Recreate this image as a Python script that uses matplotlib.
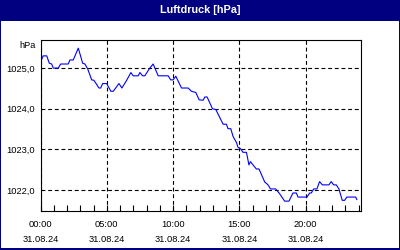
import matplotlib.pyplot as plt
from matplotlib.patches import Rectangle
from matplotlib.ticker import MultipleLocator, FixedLocator

# hours since 00:00 on 31.08.24 and pressure in hPa
hours = [0.00, 0.20, 0.47, 0.66, 0.84, 0.96, 1.34, 1.52, 2.09, 2.22, 2.47, 2.85,
         3.18, 3.35, 3.56, 3.86, 4.03, 4.41, 4.54, 4.69, 4.99, 5.31, 5.49, 5.92,
         6.14, 6.50, 6.82, 6.99, 7.37, 7.50, 7.70, 7.87, 8.25, 8.50, 8.88, 9.63,
         9.83, 10.01, 10.21, 10.64, 11.14, 11.39, 11.72, 11.97, 12.27, 12.40, 12.57,
         12.98, 13.23, 13.78, 14.03, 14.15, 14.36, 14.53, 14.79, 14.91, 15.09, 15.28,
         15.54, 15.73, 15.84, 16.04, 16.29, 16.49, 16.92, 17.17, 17.35, 17.75, 18.05,
         18.42, 18.75, 19.05, 19.31, 19.43, 20.11, 20.31, 20.44, 20.61, 20.86, 21.06,
         21.27, 21.76, 21.94, 22.12, 22.32, 22.52, 22.77, 22.95, 23.12, 23.78, 23.87]
pressure = [1025.15, 1025.30, 1025.30, 1025.12, 1025.10, 1025.00, 1025.00, 1025.10,
            1025.10, 1025.20, 1025.20, 1025.49, 1025.12, 1025.10, 1024.98, 1024.71,
            1024.70, 1024.51, 1024.51, 1024.62, 1024.62, 1024.43, 1024.43, 1024.62,
            1024.51, 1024.70, 1024.89, 1024.81, 1024.81, 1024.89, 1024.81, 1024.81,
            1025.00, 1025.10, 1024.81, 1024.81, 1024.71, 1024.71, 1024.80, 1024.51,
            1024.51, 1024.43, 1024.40, 1024.22, 1024.21, 1024.29, 1024.29, 1024.00,
            1023.98, 1023.62, 1023.62, 1023.51, 1023.51, 1023.32, 1023.17, 1023.05,
            1023.02, 1022.93, 1022.93, 1022.62, 1022.70, 1022.62, 1022.52, 1022.52,
            1022.20, 1022.13, 1022.03, 1022.03, 1021.91, 1021.73, 1021.73, 1021.93,
            1021.93, 1021.83, 1021.83, 1021.93, 1021.93, 1022.03, 1022.03, 1022.21,
            1022.13, 1022.13, 1022.21, 1022.13, 1022.13, 1022.03, 1021.75, 1021.75,
            1021.83, 1021.83, 1021.77]

xtick_pos = [0, 5, 10, 15, 20]
xtick_labels = ['00:00\n31.08.24', '05:00\n31.08.24', '10:00\n31.08.24',
                '15:00\n31.08.24', '20:00\n31.08.24']
ytick_pos = [1022, 1023, 1024, 1025]
ytick_labels = ['1022,0', '1023,0', '1024,0', '1025,0']

navy = '#000080'
plt.rcParams['font.family'] = ['Liberation Sans', 'DejaVu Sans']

fig = plt.figure(figsize=(4, 2.5), dpi=100)
fig.patch.set_facecolor('white')

# title band and frame
fig.patches.append(Rectangle((0, 0.918), 1, 0.082, transform=fig.transFigure,
                             facecolor=navy, edgecolor='none', zorder=0))
fig.patches.append(Rectangle((0, 0), 0.003, 1, transform=fig.transFigure,
                             facecolor=navy, edgecolor='none'))
fig.patches.append(Rectangle((0.997, 0), 0.003, 1, transform=fig.transFigure,
                             facecolor=navy, edgecolor='none'))
fig.patches.append(Rectangle((0, 0), 1, 0.009, transform=fig.transFigure,
                             facecolor=navy, edgecolor='none'))
fig.text(0.5, 0.959, 'Luftdruck [hPa]', color='white', fontsize=7.8,
         fontweight='bold', ha='center', va='center')

ax = fig.add_axes([0.1013, 0.158, 0.8, 0.682])
ax.plot(hours, pressure, color='#0000ff', linewidth=0.8)

ax.set_xlim(0, 24.15)
ax.set_ylim(1021.5, 1025.69)

ax.xaxis.set_major_locator(FixedLocator(xtick_pos))
ax.set_xticklabels(xtick_labels, fontsize=6.7)
for lbl in ax.get_xticklabels():
    lbl.set_linespacing(1.8)
ax.xaxis.set_minor_locator(MultipleLocator(1))
ax.set_yticks(ytick_pos)
ax.set_yticklabels(ytick_labels, fontsize=6.7)

ax.tick_params(axis='x', which='both', direction='in', length=4, width=0.8, pad=7)
ax.tick_params(axis='y', which='both', length=0, pad=4)

ax.grid(True, which='major', color='black', linestyle=(0, (3.5, 2.5)), linewidth=0.8)
for s in ax.spines.values():
    s.set_linewidth(0.8)
    s.set_color('black')

fig.text(0.09, 0.82, 'hPa', fontsize=6.7, ha='right', va='center')

fig.savefig('out.png', dpi=100)
